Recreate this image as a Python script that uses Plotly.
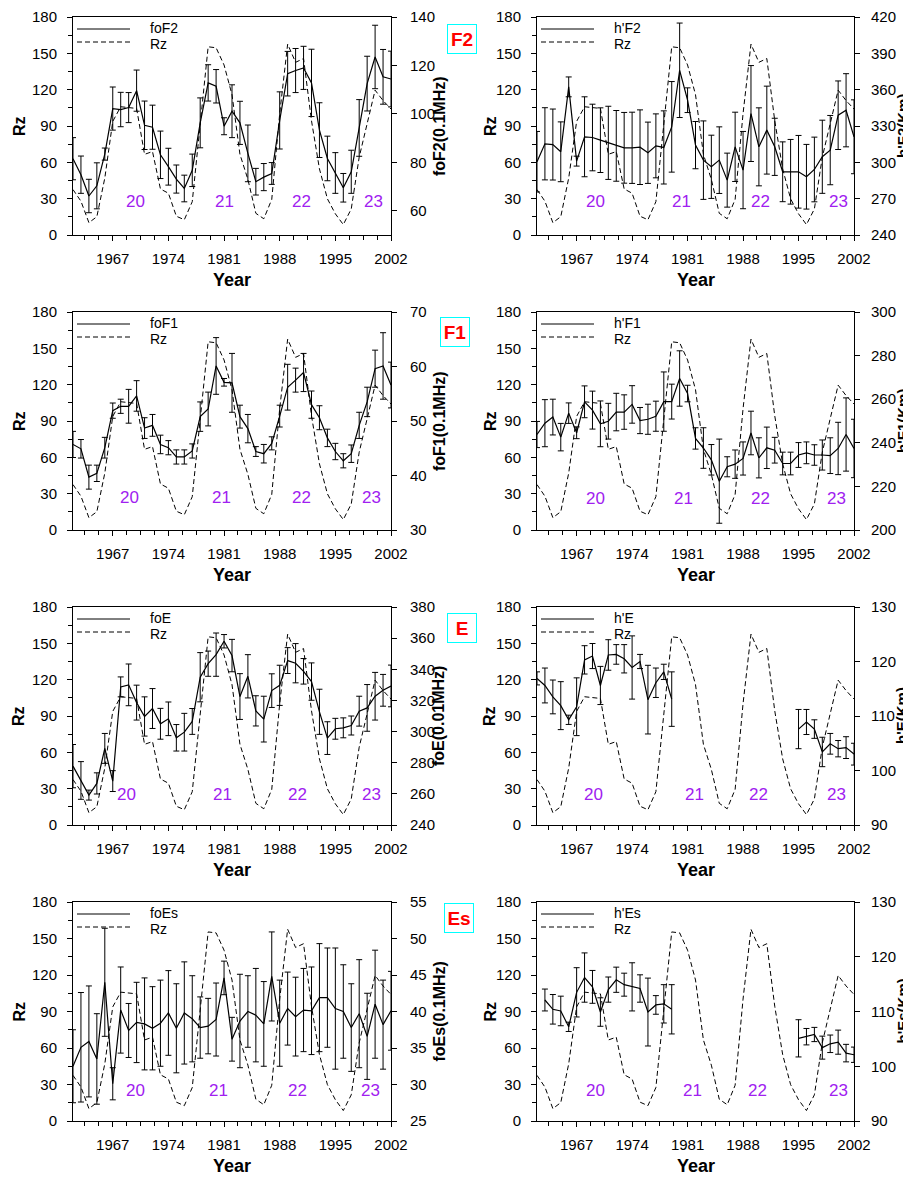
import plotly.graph_objects as go

# yearly means 1962-2002
years = list(range(1962, 2003))

# sunspot number (dashed curve, left axis)
rz = [37.5, 27.9, 10.2, 15.1, 47.0, 93.8, 105.9, 105.5, 104.5, 66.6,
      68.9, 38.0, 34.5, 15.5, 12.6, 27.5, 92.5, 155.4, 154.6, 140.4,
      115.9, 66.6, 45.9, 17.9, 13.4, 29.4, 100.2, 157.6, 142.6, 145.7,
      94.3, 54.6, 29.9, 17.5, 8.6, 21.5, 64.3, 93.3, 119.6, 111.0, 104.0]

foF2 = [81.5, 74.9, 66.1, 70.3, 83.4, 102.2, 101.8, 102.6, 109.6, 95.3,
        94.5, 83.1, 78.2, 73.1, 69.2, 76.7, 96.3, 112.8, 111.4, 94.9,
        101.1, 96.3, 83.7, 72.0, 73.9, 75.4, 97.3, 116.6, 117.9, 119.0,
        112.8, 93.3, 81.6, 75.6, 69.5, 76.1, 94.2, 112.5, 123.5, 115.3, 114.4]
foF2_err = [8.7, 7.7, 6.9, 9.5, 2.5, 8.9, 7.1, 6.2, 8.5, 10.0,
            9.1, 9.8, 7.6, 5.8, 5.5, 6.7, 10.3, 7.5, 6.9, 3.5,
            10.9, 8.9, 11.7, 5.5, 5.6, 4.5, 11.8, 9.2, 9.1, 8.9,
            13.9, 11.3, 9.2, 8.4, 5.9, 8.9, 11.7, 11.3, 13.1, 11.3, 11.5]

hF2 = [300.5, 315.3, 314.7, 308.7, 362.3, 301.0, 321.1, 320.5, 318.3, 316.1,
       313.6, 312.0, 312.0, 312.5, 307.9, 313.6, 312.3, 329.3, 376.0, 351.3,
       314.2, 301.8, 296.3, 301.8, 285.3, 312.8, 293.6, 340.3, 312.8, 326.6,
       312.8, 292.2, 292.2, 292.2, 288.1, 294.1, 304.6, 310.1, 338.9, 343.0, 321.1]
hF2_err = [25.0, 29.8, 29.3, 24.7, 8.2, 4.1, 33.0, 27.5, 26.7, 30.2,
           29.2, 29.2, 29.4, 30.8, 25.3, 26.4, 30.2, 37.4, 39.0, 10.2,
           19.5, 32.4, 26.1, 27.5, 22.3, 28.6, 31.9, 39.6, 32.2, 36.3,
           23.6, 24.7, 26.7, 30.0, 26.7, 26.7, 30.2, 28.6, 28.3, 30.2, 30.5]

foF1 = [45.7, 44.9, 39.7, 40.4, 45.1, 51.9, 52.7, 52.7, 54.6, 48.7,
        49.2, 45.7, 45.1, 43.4, 43.4, 44.5, 50.8, 52.2, 60.1, 57.1,
        57.0, 50.8, 48.6, 44.4, 44.0, 45.9, 50.9, 56.2, 57.5, 58.9,
        53.0, 50.6, 46.9, 44.4, 42.7, 44.0, 49.2, 53.5, 59.6, 60.1, 56.6]
foF1_err = [2.4, 1.7, 2.2, 1.5, 1.9, 1.4, 1.3, 3.1, 2.8, 1.9,
            2.0, 1.7, 1.3, 1.3, 1.3, 1.3, 2.7, 3.1, 5.2, 0.7,
            5.4, 2.1, 2.6, 0.9, 1.7, 1.2, 2.0, 4.2, 2.2, 3.5,
            2.5, 2.2, 1.6, 1.5, 1.3, 1.6, 2.4, 2.7, 3.4, 6.1, 4.2]

hF1 = [243.8, 249.0, 251.8, 242.6, 253.6, 244.6, 258.8, 255.0, 248.7, 249.9,
       254.1, 254.1, 257.6, 250.2, 250.8, 252.2, 258.9, 258.9, 269.5, 262.6,
       242.0, 237.6, 232.2, 222.4, 229.0, 230.2, 232.8, 244.5, 233.1, 237.7,
       236.6, 230.5, 230.5, 234.4, 235.4, 234.4, 234.4, 234.1, 237.4, 243.8, 237.4]
hF1_err = [6.0, 10.8, 8.2, 6.3, 4.7, 2.7, 7.3, 8.7, 10.5, 8.2,
           8.6, 7.9, 8.6, 6.0, 6.9, 6.9, 13.6, 8.0, 12.7, 3.8,
           4.9, 9.3, 7.0, 19.3, 4.6, 6.5, 7.6, 10.0, 9.2, 9.5,
           5.9, 5.2, 5.2, 5.7, 5.0, 4.7, 6.9, 8.2, 12.0, 16.8, 13.4]

foE = [277.8, 268.6, 259.2, 266.7, 289.2, 268.2, 328.7, 330.0, 318.6, 309.7,
       314.8, 305.0, 308.2, 296.0, 299.6, 306.5, 334.9, 343.6, 349.4, 358.0,
       348.8, 322.5, 335.5, 313.3, 308.0, 326.3, 329.7, 345.6, 343.9, 338.7,
       332.1, 312.7, 295.8, 301.8, 302.4, 303.9, 313.1, 315.2, 322.7, 326.5, 329.3]
foE_err = [13.9, 12.1, 3.2, 6.8, 9.6, 6.7, 6.4, 13.4, 11.2, 12.6,
           12.8, 9.9, 10.8, 8.5, 12.1, 8.3, 15.8, 8.1, 13.9, 4.3,
           10.4, 14.7, 13.9, 9.7, 14.7, 10.8, 12.9, 8.3, 12.6, 8.2,
           12.0, 14.5, 10.5, 6.7, 6.4, 6.1, 9.6, 15.0, 15.3, 10.2, 13.4]

# no h'E / h'Es data for 1980-1994
hE = ([116.9, 115.6, 113.5, 111.9, 109.3, 111.7, 120.3, 121.0, 115.6,
       121.2, 121.3, 120.5, 118.9, 120.0, 113.0, 116.1, 118.1, 113.1]
      + [None] * 15
      + [107.6, 108.9, 107.6, 103.4, 104.9, 104.0, 104.2, 103.0])
hE_err = ([1.2, 3.2, 3.1, 4.4, 0.85, 5.3, 2.6, 2.3, 3.5,
           2.8, 1.8, 2.6, 5.8, 1.3, 6.3, 2.7, 1.4, 5.0]
          + [None] * 15
          + [3.6, 2.3, 1.7, 2.7, 1.9, 1.5, 2.0, 2.0])

foEs = [32.5, 35.1, 35.9, 33.5, 44.0, 30.1, 40.2, 37.4, 38.5, 38.3,
        37.7, 38.4, 39.8, 37.7, 39.8, 39.0, 37.8, 38.0, 38.9, 44.6,
        36.2, 38.7, 40.0, 39.5, 38.3, 44.8, 38.4, 40.4, 39.3, 40.2,
        40.1, 41.9, 41.9, 40.4, 40.0, 37.8, 39.7, 36.6, 41.0, 38.2, 40.1]
foEs_err = [5.0, 7.5, 7.6, 6.2, 7.4, 2.2, 5.9, 3.7, 5.5, 6.3,
            5.7, 5.9, 5.8, 6.1, 7.0, 5.9, 4.2, 3.8, 5.0, 2.3,
            3.0, 6.4, 4.9, 6.4, 5.8, 6.1, 5.9, 5.0, 5.4, 5.7,
            6.0, 7.4, 6.8, 8.3, 6.4, 6.0, 7.4, 5.9, 7.4, 6.1, 5.4]

hEs = ([None]
       + [112.1, 110.4, 110.1, 107.2, 113.5, 116.2, 114.5, 109.9, 114.0,
          115.8, 114.9, 114.5, 114.2, 109.9, 111.2, 111.4, 110.4]
       + [None] * 15
       + [105.1, 105.4, 105.8, 103.4, 104.1, 104.4, 102.4, 102.1])
hEs_err = ([None]
           + [2.0, 2.7, 2.7, 0.85, 4.5, 4.5, 3.0, 2.6, 2.3,
              2.3, 2.1, 4.4, 2.5, 6.2, 1.7, 3.5, 4.5]
           + [None] * 15
           + [3.4, 1.5, 1.3, 2.1, 1.6, 2.2, 1.6, 1.4])

cycle_names = ["20", "21", "22", "23"]
layer_tags = ["F2", "F1", "E", "Es"]

# (series name, values, errors, right axis title, right range, right dtick)
panels = [
    ("foF2", foF2, foF2_err, "foF2(0.1MHz)", [50, 140], 20),
    ("h'F2", hF2, hF2_err, "h'F2(Km)", [240, 420], 30),
    ("foF1", foF1, foF1_err, "foF1(0.1MHz)", [30, 70], 10),
    ("h'F1", hF1, hF1_err, "h'F1(Km)", [200, 300], 20),
    ("foE", foE, foE_err, "foE(0.01MHz)", [240, 380], 20),
    ("h'E", hE, hE_err, "h'E(Km)", [90, 130], 10),
    ("foEs", foEs, foEs_err, "foEs(0.1MHz)", [25, 55], 5),
    ("h'Es", hEs, hEs_err, "h'Es(Km)", [90, 130], 10),
]

# where the cycle numbers sit (year, Rz) in each panel
cycle_x = [
    [1969.8, 1981.1, 1990.7, 1999.8],
    [1969.4, 1980.2, 1990.2, 2000.1],
    [1969.1, 1980.7, 1990.7, 1999.6],
    [1969.4, 1980.5, 1990.2, 1999.8],
    [1968.7, 1980.8, 1990.2, 1999.6],
    [1969.1, 1981.9, 1990.0, 1999.8],
    [1969.9, 1980.3, 1990.2, 1999.4],
    [1969.4, 1981.6, 1989.8, 2000.0],
]
cycle_y = [28, 28, 27, 26, 25, 25, 25, 25]

# page is 911x1181 but the browser body has an 8px margin,
# so the figure itself is 8px smaller and every position is shifted by 8
PAGE_W, PAGE_H = 911, 1181
OFF = 8
W, H = PAGE_W - OFF, PAGE_H - OFF

# positions below are in page pixels
col_px = [(73, 391), (537, 854)]
row_px = [(17, 235), (312, 530), (607, 825), (902, 1121)]
tag_px = [(462, 39), (455, 332), (462, 628), (459, 918)]
rz_title_x = [19, 490]
right_title_x = [439, 902]
right_title_size = [16, 15]
right_label_gap = [10, 8]

FONT = "Liberation Sans, Arial, sans-serif"
PURPLE = "#A020F0"
RZ_DASH = "5px,3px"


def px(x, y):
    return (x - OFF) / W, 1 - (y - OFF) / H


def label(x, y, text, size, bold=False, color="black", angle=0, **kw):
    fx, fy = px(x, y)
    font = dict(family=FONT, size=size, color=color)
    if bold:
        font["weight"] = "bold"
    d = dict(xref="paper", yref="paper", x=fx, y=fy, text=text,
             showarrow=False, textangle=angle, font=font,
             xanchor="center", yanchor="middle")
    d.update(kw)
    return d


fig = go.Figure()
layout = {}
shapes = []
annotations = []

axis_common = dict(
    ticks="outside", ticklen=5, tickcolor="black",
    showline=True, linecolor="black", linewidth=1,
    showgrid=False, zeroline=False, automargin=False,
    tickfont=dict(family=FONT, size=15, color="black"),
)

for k, (name, vals, errs, rtitle, rrange, rdtick) in enumerate(panels):
    row, col = divmod(k, 2)
    L, R = col_px[col]
    T, B = row_px[row]
    xid = "x" if k == 0 else "x%d" % (k + 1)
    ly = "y%d" % (2 * k + 1) if k else "y"
    ry = "y%d" % (2 * k + 2)
    (x0, y1), (x1, y0) = px(L, T), px(R, B)

    layout["xaxis" if k == 0 else "xaxis%d" % (k + 1)] = dict(
        axis_common, domain=[x0, x1], anchor=ly, range=[1962, 2002],
        tick0=1967, dtick=7, mirror=True, ticklabelstandoff=5,
        minor=dict(tick0=1967, dtick=1.75, ticks="outside", ticklen=4,
                   tickcolor="black", showgrid=False),
    )
    layout["yaxis" if k == 0 else "yaxis%d" % (2 * k + 1)] = dict(
        axis_common, domain=[y0, y1], anchor=xid, range=[0, 180],
        tick0=0, dtick=30, ticklabelstandoff=7,
        minor=dict(dtick=15, ticks="outside", ticklen=4,
                   tickcolor="black", showgrid=False),
    )
    layout["yaxis%d" % (2 * k + 2)] = dict(
        axis_common, domain=[y0, y1], anchor=xid, overlaying=ly, side="right",
        range=rrange, tick0=0, dtick=rdtick,
        ticklabelstandoff=right_label_gap[col],
    )

    fig.add_trace(go.Scatter(
        x=years, y=rz, xaxis=xid, yaxis=ly, mode="lines",
        line=dict(color="black", width=1, dash=RZ_DASH),
        showlegend=False, name="Rz",
    ))
    fig.add_trace(go.Scatter(
        x=years, y=vals, xaxis=xid, yaxis=ry, mode="lines",
        line=dict(color="black", width=1.2), connectgaps=False,
        error_y=dict(type="data", array=errs, visible=True,
                     color="black", thickness=1, width=3),
        showlegend=False, name=name,
    ))

    # axis titles
    mid = (T + B) / 2
    annotations.append(label(rz_title_x[col], mid, "Rz", 16, bold=True, angle=-90))
    annotations.append(label(right_title_x[col], mid, rtitle,
                             right_title_size[col], bold=True, angle=-90))
    annotations.append(label((L + R) / 2, B + 45, "Year", 18, bold=True))

    # little legend in the upper left corner
    for dy, ty, dash, text in [(12, 11, "solid", name), (25, 27, RZ_DASH, "Rz")]:
        lx0, ly0 = px(L + 4, T + dy)
        lx1, _ = px(L + 57, T + dy)
        shapes.append(dict(type="line", xref="paper", yref="paper",
                           x0=lx0, x1=lx1, y0=ly0, y1=ly0,
                           line=dict(color="black", width=1, dash=dash)))
        annotations.append(label(L + 75, T + ty, text, 14, xanchor="left"))

    for cx, cname in zip(cycle_x[k], cycle_names):
        annotations.append(dict(xref=xid, yref=ly, x=cx, y=cycle_y[k],
                                text=cname, showarrow=False,
                                xanchor="center", yanchor="middle",
                                font=dict(family=FONT, size=17, color=PURPLE)))

for (tx, ty), tag in zip(tag_px, layer_tags):
    annotations.append(label(tx, ty, tag, 19, bold=True, color="red",
                             width=28, height=28, borderpad=0,
                             bordercolor="#00FFFF", borderwidth=1,
                             bgcolor="white"))

layout.update(
    width=W, height=H, margin=dict(l=0, r=0, t=0, b=0, autoexpand=False),
    paper_bgcolor="white", plot_bgcolor="white",
    shapes=shapes, annotations=annotations, showlegend=False,
    font=dict(family=FONT, color="black"),
)
fig.update_layout(**layout)

fig.write_html("out.html")
